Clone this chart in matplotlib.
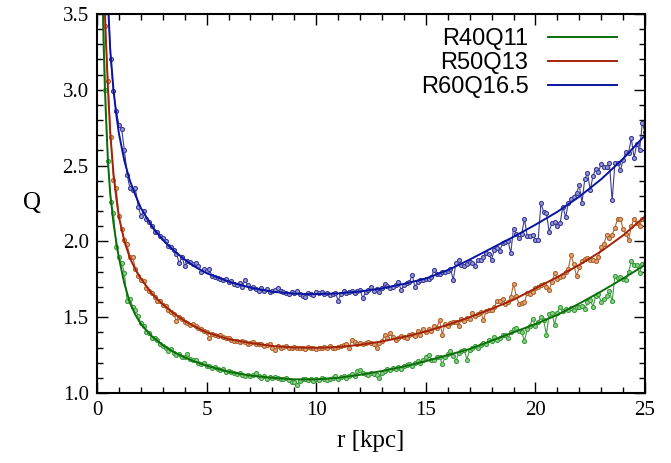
import numpy as np
import matplotlib
matplotlib.use("Agg")
import matplotlib.pyplot as plt
from matplotlib.ticker import MultipleLocator

# radius grid of the measured profiles (kpc)
r_data = np.arange(1, 201) * 0.125

green_q = [
    6.80, 3.71, 3.00, 2.53, 2.26, 2.19, 1.96, 1.90,
    1.86, 1.79, 1.61, 1.62, 1.57, 1.55, 1.51, 1.46,
    1.44, 1.40, 1.395, 1.36, 1.36, 1.35, 1.32, 1.31,
    1.30, 1.28, 1.29, 1.265, 1.25, 1.26, 1.24, 1.235,
    1.26, 1.225, 1.215, 1.22, 1.20, 1.19, 1.20, 1.18,
    1.175, 1.165, 1.17, 1.155, 1.15, 1.155, 1.14, 1.145,
    1.14, 1.135, 1.125, 1.13, 1.12, 1.115, 1.12, 1.115,
    1.12, 1.13, 1.115, 1.10, 1.11, 1.095, 1.105, 1.10,
    1.105, 1.10, 1.09, 1.095, 1.10, 1.085, 1.075, 1.07,
    1.055, 1.08, 1.09, 1.095, 1.085, 1.09, 1.08, 1.095,
    1.085, 1.10, 1.09, 1.085, 1.095, 1.10, 1.11, 1.095,
    1.105, 1.11, 1.10, 1.115, 1.125, 1.11, 1.145, 1.15,
    1.13, 1.125, 1.12, 1.135, 1.125, 1.12, 1.10, 1.135,
    1.145, 1.155, 1.15, 1.165, 1.16, 1.17, 1.16, 1.18,
    1.185, 1.19, 1.18, 1.20, 1.21, 1.195, 1.22, 1.235,
    1.25, 1.22, 1.215, 1.235, 1.24, 1.19, 1.235, 1.26,
    1.275, 1.245, 1.21, 1.265, 1.28, 1.285, 1.22, 1.285,
    1.30, 1.31, 1.295, 1.315, 1.33, 1.32, 1.35, 1.345,
    1.37, 1.35, 1.36, 1.385, 1.38, 1.36, 1.40, 1.425,
    1.43, 1.41, 1.40, 1.345, 1.42, 1.445, 1.49, 1.44,
    1.47, 1.50, 1.48, 1.385, 1.52, 1.53, 1.45, 1.53,
    1.57, 1.54, 1.555, 1.545, 1.56, 1.55, 1.57, 1.565,
    1.575, 1.555, 1.60, 1.615, 1.57, 1.64, 1.65, 1.60,
    1.62, 1.64, 1.67, 1.605, 1.77, 1.76, 1.765, 1.755,
    1.745, 1.80, 1.87, 1.845, 1.845, 1.79, 1.85, 1.86,
]

red_q = [
    7.50, 4.15, 3.42, 3.06, 2.69, 2.405, 2.35, 2.165,
    2.08, 2.01, 1.98, 1.90, 1.90, 1.82, 1.77, 1.745,
    1.74, 1.69, 1.675, 1.66, 1.635, 1.605, 1.61, 1.58,
    1.575, 1.55, 1.535, 1.52, 1.475, 1.50, 1.49, 1.47,
    1.46, 1.45, 1.455, 1.44, 1.43, 1.425, 1.41, 1.40,
    1.36, 1.39, 1.385, 1.375, 1.38, 1.37, 1.365, 1.36,
    1.35, 1.345, 1.345, 1.335, 1.345, 1.335, 1.325, 1.33,
    1.335, 1.32, 1.32, 1.325, 1.31, 1.315, 1.32, 1.30,
    1.285, 1.31, 1.30, 1.305, 1.31, 1.30, 1.295, 1.305,
    1.30, 1.295, 1.30, 1.29, 1.305, 1.295, 1.30, 1.29,
    1.30, 1.295, 1.305, 1.30, 1.31, 1.30, 1.295, 1.305,
    1.31, 1.315, 1.32, 1.30, 1.35, 1.335, 1.32, 1.33,
    1.325, 1.33, 1.335, 1.33, 1.32, 1.295, 1.33, 1.345,
    1.385, 1.36, 1.395, 1.37, 1.35, 1.36, 1.375, 1.37,
    1.365, 1.385, 1.39, 1.375, 1.41, 1.385, 1.42, 1.405,
    1.425, 1.41, 1.44, 1.43, 1.48, 1.385, 1.455, 1.44,
    1.46, 1.47, 1.465, 1.445, 1.49, 1.475, 1.495, 1.49,
    1.525, 1.51, 1.52, 1.535, 1.48, 1.54, 1.545, 1.55,
    1.565, 1.61, 1.61, 1.62, 1.585, 1.60, 1.63, 1.72,
    1.64, 1.59, 1.595, 1.60, 1.66, 1.65, 1.665, 1.69,
    1.70, 1.715, 1.72, 1.70, 1.68, 1.73, 1.79, 1.75,
    1.765, 1.775, 1.80, 1.82, 1.91, 1.85, 1.77, 1.83,
    1.87, 1.885, 1.89, 1.875, 1.88, 1.87, 1.90, 1.96,
    1.985, 2.04, 2.025, 2.045, 2.09, 2.15, 2.15, 2.08,
    2.05, 2.01, 2.10, 2.15, 2.12, 2.10, 2.15, 2.14,
]

blue_q = [
    8.30, 5.30, 4.15, 3.60, 3.20, 2.99, 2.86, 2.77,
    2.74, 2.60, 2.44, 2.35, 2.34, 2.35, 2.23, 2.17,
    2.20, 2.15, 2.125, 2.10, 2.065, 2.06, 2.035, 2.02,
    2.00, 1.97, 1.96, 1.945, 1.92, 1.855, 1.90, 1.835,
    1.87, 1.865, 1.85, 1.855, 1.835, 1.80, 1.82, 1.805,
    1.815, 1.77, 1.765, 1.76, 1.755, 1.745, 1.755, 1.735,
    1.74, 1.72, 1.715, 1.725, 1.70, 1.745, 1.71, 1.69,
    1.70, 1.685, 1.67, 1.69, 1.675, 1.685, 1.665, 1.67,
    1.68, 1.69, 1.67, 1.665, 1.66, 1.65, 1.665, 1.66,
    1.67, 1.655, 1.64, 1.635, 1.66, 1.65, 1.645, 1.665,
    1.66, 1.665, 1.655, 1.66, 1.645, 1.65, 1.66, 1.61,
    1.655, 1.675, 1.66, 1.665, 1.67, 1.66, 1.675, 1.68,
    1.625, 1.665, 1.68, 1.70, 1.675, 1.685, 1.665, 1.695,
    1.72, 1.705, 1.695, 1.70, 1.715, 1.73, 1.68, 1.71,
    1.725, 1.73, 1.78, 1.70, 1.735, 1.745, 1.745, 1.75,
    1.755, 1.765, 1.81, 1.785, 1.785, 1.80, 1.795, 1.805,
    1.82, 1.745, 1.86, 1.875, 1.845, 1.84, 1.85, 1.865,
    1.855, 1.84, 1.88, 1.875, 1.90, 1.925, 1.915, 1.88,
    1.945, 1.955, 1.935, 1.99, 1.995, 2.00, 1.925, 2.085,
    2.05, 2.02, 2.05, 2.15, 2.035, 2.035, 2.04, 2.01,
    2.01, 2.25, 2.195, 2.185, 2.065, 2.12, 2.13, 2.10,
    2.12, 2.23, 2.16, 2.25, 2.28, 2.295, 2.32, 2.37,
    2.255, 2.41, 2.45, 2.34, 2.43, 2.48, 2.46, 2.51,
    2.49, 2.49, 2.515, 2.27, 2.515, 2.52, 2.47, 2.535,
    2.59, 2.585, 2.68, 2.55, 2.645, 2.60, 2.78, 2.72,
]

# fitted curves
r_fit = [0.25, 0.3, 0.35, 0.4, 0.5, 0.6, 0.75, 0.875, 1.0, 1.25, 1.5, 1.75,
         2.0, 2.5, 3.0, 3.5, 4.0, 4.5, 5, 6, 7, 8, 9, 10, 11, 12, 13, 14,
         15, 16, 17, 18, 19, 20, 21, 22, 23, 24, 25]
green_fit = [3.65, 3.3, 3.05, 2.85, 2.52, 2.32, 2.12, 2.0, 1.89, 1.72, 1.595,
             1.515, 1.455, 1.375, 1.315, 1.27, 1.235, 1.205, 1.18, 1.14,
             1.115, 1.10, 1.09, 1.09, 1.10, 1.12, 1.145, 1.175, 1.21, 1.25,
             1.29, 1.345, 1.40, 1.455, 1.515, 1.59, 1.67, 1.755, 1.845]
red_fit = [4.1, 3.8, 3.56, 3.35, 3.0, 2.72, 2.45, 2.29, 2.16, 2.0, 1.89,
           1.815, 1.755, 1.655, 1.585, 1.525, 1.475, 1.435, 1.40, 1.355,
           1.33, 1.31, 1.30, 1.298, 1.303, 1.318, 1.34, 1.37, 1.405, 1.45,
           1.50, 1.555, 1.615, 1.69, 1.765, 1.845, 1.935, 2.04, 2.165]
blue_fit = [5.2, 4.8, 4.45, 4.15, 3.58, 3.27, 3.0, 2.84, 2.71, 2.53, 2.40,
            2.305, 2.22, 2.10, 2.01, 1.94, 1.88, 1.83, 1.79, 1.735, 1.695,
            1.668, 1.655, 1.652, 1.657, 1.67, 1.69, 1.72, 1.755, 1.81, 1.88,
            1.955, 2.03, 2.11, 2.195, 2.295, 2.41, 2.545, 2.70]

labels = ["R40Q11", "R50Q13", "R60Q16.5"]
fit_colors = ["#0b6e0b", "#a3220a", "#0a14a0"]
data_colors = ["#3c9c3c", "#b0622e", "#3a3c96"]
face_colors = ["#8fd08f", "#e0a878", "#9a9ad8"]

fig = plt.figure(figsize=(6.71, 4.63), dpi=100)
ax = fig.add_axes([0.1446, 0.1512, 0.8167, 0.8186])

series = [green_q, red_q, blue_q]
fits = [green_fit, red_fit, blue_fit]
for q, dc, mf in zip(series, data_colors, face_colors):
    ax.plot(r_data, q, color=dc, lw=0.8, marker="o", ms=2.9, mfc=mf,
            mec=dc, mew=0.8)
for f, lab, fc in zip(fits, labels, fit_colors):
    ax.plot(r_fit, f, color=fc, lw=1.4, label=lab)

ax.set_xlim(0, 25)
ax.set_ylim(1.0, 3.5)
ax.xaxis.set_major_locator(MultipleLocator(5))
ax.xaxis.set_minor_locator(MultipleLocator(1))
ax.yaxis.set_major_locator(MultipleLocator(0.5))
ax.yaxis.set_minor_locator(MultipleLocator(0.1))
ax.yaxis.set_major_formatter(plt.FormatStrFormatter("%.1f"))
ax.tick_params(which="both", direction="in", top=True, right=True,
               width=1.0, labelsize=15, pad=6)
ax.tick_params(which="major", length=8)
ax.tick_params(which="minor", length=4)
for lab in ax.get_xticklabels() + ax.get_yticklabels():
    lab.set_family("Liberation Serif")
for sp in ax.spines.values():
    sp.set_linewidth(1.5)

ax.set_xlabel("r [kpc]", family="Liberation Serif", fontsize=18, labelpad=7)
ax.set_ylabel("Q", family="Liberation Serif", fontsize=18, rotation=0,
              labelpad=22, va="center")

leg = ax.legend(loc="upper right", bbox_to_anchor=(0.966, 0.987),
                borderaxespad=0, frameon=False, markerfirst=False,
                handlelength=2.9, handletextpad=0.85, labelspacing=0.08,
                prop={"family": "Liberation Sans", "size": 17})
for t in leg.get_texts():
    t.set_ha("right")

fig.savefig("out.png", dpi=100)
